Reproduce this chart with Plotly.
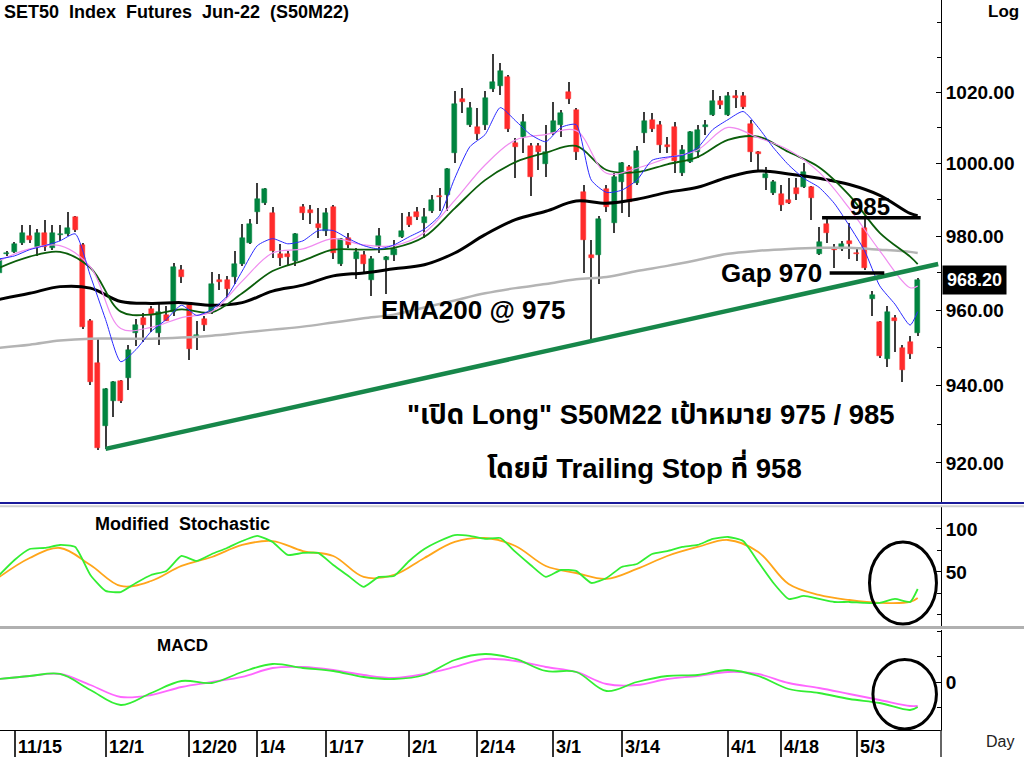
import numpy as np
import plotly.graph_objects as go
from plotly.subplots import make_subplots

# Bar index: 0 = 11/11/2021 ... 121 = last session (May 2022)
tick_idx = [2, 14, 25, 34, 43, 54, 63, 73, 82, 96, 103, 113]
tick_text = ['11/15', '12/1', '12/20', '1/4', '1/17', '2/1', '2/14', '3/1', '3/14', '4/1', '4/18', '5/3']

opens = [970.0, 975.0, 975.7, 978.2, 980.1, 977.1, 980.9, 976.8, 980.3, 980.6,
         985.1, 977.6, 957.2, 946.0, 929.4, 935.9, 941.2, 942.0, 953.8, 958.0,
         960.2, 954.0, 958.6, 959.6, 970.8, 961.3, 953.0, 957.5, 959.6, 968.1,
         968.1, 968.9, 972.4, 978.2, 986.5, 989.0, 986.2, 975.2, 975.2, 973.3,
         987.9, 987.1, 983.4, 981.5, 988.1, 972.4, 979.5, 973.8, 974.9, 968.1,
         977.4, 973.5, 974.9, 979.8, 985.1, 986.5, 983.7, 986.8, 990.9, 991.2,
         1003.0, 1018.0, 1010.9, 1010.1, 1010.9, 1021.1, 1021.7, 1024.5, 1005.8, 1007.5,
         1004.9, 1004.9, 999.8, 1008.6, 1010.9, 1020.0, 1014.9, 992.0, 974.9, 974.9,
         992.9, 983.7, 994.8, 999.0, 994.5, 1008.6, 1012.3, 1010.9, 1005.2, 1010.3,
         997.3, 1000.4, 1003.2, 1010.1, 1013.7, 1017.7, 1013.7, 1018.9, 1018.9, 1011.2,
         1003.2, 995.9, 991.8, 991.5, 989.8, 993.2, 993.4, 993.4, 975.2, 983.4,
         976.5, 976.5, 978.7, 975.4, 982.2, 962.9, 956.7, 947.1, 958.0, 950.0,
         951.6, 954.0]
highs = [975.0, 976.0, 978.4, 983.1, 983.1, 982.0, 984.5, 983.1, 983.1, 986.5,
         985.6, 978.0, 957.7, 952.4, 939.5, 941.2, 941.5, 950.8, 957.5, 959.1,
         961.0, 961.8, 961.0, 972.7, 972.2, 961.6, 957.0, 958.3, 970.3, 969.7,
         969.2, 976.0, 983.4, 984.8, 994.5, 993.2, 987.9, 977.9, 976.0, 980.9,
         988.7, 988.4, 987.6, 987.6, 988.4, 979.5, 980.9, 976.8, 976.0, 974.6,
         982.2, 974.6, 979.0, 986.2, 986.5, 987.9, 987.6, 991.2, 993.2, 998.7,
         1020.3, 1021.4, 1017.4, 1015.5, 1020.3, 1031.1, 1028.5, 1025.1, 1007.2, 1014.0,
         1005.8, 1005.8, 1010.9, 1017.4, 1014.9, 1023.1, 1015.7, 994.0, 979.0, 985.5,
         994.0, 997.3, 1000.4, 999.6, 1004.9, 1014.6, 1014.3, 1011.8, 1007.5, 1011.5,
         1005.2, 1009.2, 1010.9, 1012.3, 1020.6, 1018.9, 1020.0, 1020.6, 1020.0, 1012.3,
         1003.5, 999.0, 995.3, 994.0, 995.9, 995.9, 1000.1, 993.7, 982.5, 985.1,
         977.9, 978.7, 983.7, 977.1, 984.8, 965.1, 957.2, 961.0, 958.8, 950.8,
         953.0, 968.5]
lows = [969.0, 974.6, 975.4, 977.6, 978.2, 974.6, 976.0, 976.2, 978.7, 980.1,
        981.2, 955.0, 940.1, 923.4, 923.6, 931.8, 935.5, 938.8, 950.5, 951.6,
        954.3, 950.8, 957.0, 958.3, 967.3, 946.8, 949.5, 954.5, 959.0, 965.4,
        963.2, 967.0, 971.9, 977.9, 983.4, 988.5, 974.1, 971.9, 971.9, 971.9,
        984.3, 983.4, 979.5, 980.1, 973.8, 971.9, 976.8, 968.3, 969.7, 963.7,
        975.4, 964.3, 973.3, 979.5, 982.5, 984.3, 979.5, 986.2, 987.0, 987.0,
        1000.1, 1014.3, 1010.3, 1006.6, 1009.5, 1020.0, 1019.4, 1008.9, 995.9, 1003.0,
        990.9, 998.2, 996.2, 1008.1, 1007.5, 1016.6, 1001.0, 970.0, 951.6, 967.0,
        986.5, 980.9, 986.2, 985.1, 994.0, 1005.8, 1008.9, 1003.0, 1003.0, 997.3,
        996.5, 1000.1, 1001.5, 1008.1, 1013.4, 1015.2, 1013.2, 1015.7, 1015.2, 1000.4,
        998.2, 992.6, 991.2, 987.0, 988.7, 989.8, 993.2, 984.3, 974.9, 978.2,
        971.4, 976.0, 973.8, 973.3, 970.8, 958.3, 947.4, 944.9, 949.0, 940.9,
        947.1, 953.0]
closes = [973.8, 975.4, 977.9, 980.9, 979.0, 980.9, 977.1, 980.9, 980.6, 982.2,
          981.7, 955.4, 940.9, 923.9, 939.1, 940.9, 935.9, 949.5, 955.9, 955.9,
          958.8, 959.6, 957.2, 971.6, 968.9, 949.7, 953.5, 955.9, 967.0, 967.6,
          965.6, 972.4, 979.5, 983.4, 990.1, 992.9, 976.0, 974.1, 974.4, 980.6,
          986.2, 986.2, 982.2, 986.2, 975.4, 979.3, 977.6, 975.7, 972.4, 973.8,
          980.1, 974.4, 976.5, 981.5, 983.1, 985.1, 985.1, 989.8, 990.7, 998.4,
          1016.6, 1017.4, 1015.5, 1008.4, 1018.3, 1023.1, 1026.0, 1009.8, 1004.7, 1011.5,
          996.2, 1003.2, 1003.2, 1011.8, 1014.3, 1018.0, 1003.2, 979.0, 974.1, 984.8,
          987.9, 996.2, 1000.1, 989.3, 1003.5, 1011.8, 1009.8, 1005.2, 1004.7, 1000.6,
          1003.8, 1008.9, 1009.5, 1010.9, 1017.7, 1016.3, 1018.9, 1018.3, 1016.0, 1003.2,
          1002.8, 997.1, 994.8, 988.4, 989.0, 991.5, 997.6, 990.4, 978.4, 980.9,
          976.2, 977.9, 977.9, 975.2, 971.4, 964.0, 947.9, 959.6, 957.2, 944.1,
          948.4, 968.2]

# moving averages (every 4th bar, blue every 2nd)
ma_idx = list(range(0, 121, 4)) + [121]
ema_black = [962.9, 964.5, 966.3, 965.9, 962.3, 961.8, 962.0, 961.3, 962.0, 965.1,
             966.7, 969.2, 970.0, 971.1, 972.2, 975.4, 980.4, 984.5, 986.8, 989.6,
             989.0, 990.1, 992.0, 993.4, 996.2, 997.9, 997.1, 995.9, 994.2, 991.2,
             986.2, 985.6]
ema_200 = [950.0, 950.8, 951.9, 952.4, 952.4, 952.4, 952.7, 953.2, 954.0, 954.8,
           955.6, 956.7, 957.8, 958.8, 960.7, 962.6, 964.5, 965.9, 967.0, 968.3,
           968.9, 970.5, 971.9, 973.5, 975.2, 976.0, 976.5, 976.8, 976.8, 976.3,
           975.7, 975.4]
ema_dkgreen = [971.4, 974.4, 975.7, 971.4, 959.6, 958.8, 960.2, 959.4, 964.5, 970.5,
               973.3, 976.3, 976.3, 976.8, 979.8, 987.6, 995.4, 1000.4, 1003.0, 1004.9,
               998.2, 997.6, 999.8, 1001.8, 1006.6, 1007.5, 1003.2, 999.0, 991.2, 980.9,
               974.4, 972.4]
ema_pink = [973.3, 976.5, 977.4, 971.6, 955.1, 955.4, 958.0, 959.6, 967.8, 975.4,
            976.5, 979.3, 977.6, 977.4, 980.9, 989.8, 999.6, 1006.6, 1008.1, 1009.2,
            997.3, 998.7, 1001.5, 1003.8, 1010.1, 1007.2, 1003.8, 997.6, 987.6, 976.0,
            966.0, 966.5]
blue_idx = list(range(0, 121, 2)) + [121]
ema_blue = [973.8, 974.6, 976.3, 977.4, 978.7, 980.6, 969.2, 957.5, 946.3, 949.5,
            954.3, 957.5, 961.3, 958.6, 960.2, 963.7, 970.5, 977.4, 979.3, 977.9,
            978.7, 981.5, 981.5, 979.3, 977.4, 976.5, 977.6, 979.8, 981.9, 985.6,
            995.9, 1004.7, 1008.1, 1015.7, 1012.0, 1008.1, 1006.1, 1010.1, 1010.9, 995.4,
            992.0, 992.6, 995.4, 1000.9, 1001.8, 1002.3, 1004.4, 1009.5, 1012.3, 1014.6,
            1010.1, 1004.4, 999.6, 995.9, 993.4, 989.0, 982.8, 976.0, 966.5, 961.6,
            956.0, 959.6]

# Modified stochastic
stoch_k = [46.5, 64, 76.7, 78, 81.4, 79, 46.5, 28, 26.7, 37.2,
           46.5, 51.2, 68.6, 62.8, 70.9, 77.9, 86, 91.9, 84.9, 69.8,
           72.1, 72.1, 58.1, 45.3, 32.6, 44.2, 45.3, 62.8, 76.7, 86,
           93, 91.9, 88.4, 89.5, 73.3, 58.1, 44.2, 52.3, 51.2, 37.2,
           43, 55.8, 59.3, 70.9, 74.4, 79.1, 81.4, 88.4, 90.7, 86,
           61.6, 37.2, 18.6, 22.1, 18.6, 15.1, 15.1, 14, 14, 18.6,
           15.1, 30.2]
stoch_d = [44.2, 66.3, 77.9, 58.1, 33.7, 39.5, 57, 67.4, 81.4, 86,
           74.4, 68.6, 44.2, 46.5, 66.3, 84.9, 89.5, 80.2, 57, 48.8,
           41.9, 53.5, 68.6, 79.1, 87.2, 73.3, 36, 23.3, 17.4, 14,
           15.1, 19.8]

# MACD
macd = [1.5, 3, 4, -4, -11.5, -5.5, 0.5, -0.5, 5, 9,
        7, 5.5, 2.5, 1.5, 3.5, 11, 14, 11.5, 5.5, 5,
        -4.5, 0, 3, 3.5, 6, 3, -3.5, -5.5, -8.5, -10.5,
        -14, -12.5]
macd_signal = [1.5, 3, 4, -1.5, -7.5, -6.5, -2.5, 0, 2.5, 7,
               7.5, 6, 3.5, 2, 4, 7.5, 11.5, 10.5, 7.5, 5,
               -1, -1.5, 1.5, 3, 5, 4, -0.5, -3, -6, -9,
               -12, -12]

# analyst drawings
trend_x = [14, 123.7]
trend_y = [923.6, 972.4]
target_x = [108.4, 121.4]
target_y = [985, 985]
gap_x = [109.4, 116.6]
gap_y = [970, 970]

FONT = 'Liberation Sans, Arial, sans-serif'
THAI = 'Liberation Sans, Noto Sans Thai, Loma, Garuda, Tlwg Typo, sans-serif'

fig = make_subplots(rows=3, cols=1, shared_xaxes=True, vertical_spacing=0.0)

idx = list(range(len(closes)))
up = ['#00843f' if c >= o else '#ff2b2b' for o, c in zip(opens, closes)]
body_base = [min(o, c) for o, c in zip(opens, closes)]
body_len = [max(abs(c - o), 0.3) for o, c in zip(opens, closes)]
wick_len = [h - l for h, l in zip(highs, lows)]

# wicks then bodies
fig.add_trace(go.Bar(x=idx, y=wick_len, base=lows, width=0.14,
                     marker=dict(color='#3c3c3c', line=dict(width=0))), row=1, col=1)
fig.add_trace(go.Bar(x=idx, y=body_len, base=body_base, width=0.66,
                     marker=dict(color=up, line=dict(color=up, width=0.5))), row=1, col=1)

# moving averages
fig.add_trace(go.Scatter(x=ma_idx, y=ema_200, mode='lines', line=dict(color='#b4b4b4', width=2.5, shape='spline')), row=1, col=1)
fig.add_trace(go.Scatter(x=ma_idx, y=ema_black, mode='lines', line=dict(color='#000000', width=3, shape='spline')), row=1, col=1)
fig.add_trace(go.Scatter(x=ma_idx, y=ema_dkgreen, mode='lines', line=dict(color='#0b5e0b', width=1.8, shape='spline')), row=1, col=1)
fig.add_trace(go.Scatter(x=ma_idx, y=ema_pink, mode='lines', line=dict(color='#f08cf0', width=1.2, shape='spline')), row=1, col=1)
fig.add_trace(go.Scatter(x=blue_idx, y=ema_blue, mode='lines', line=dict(color='#2a2aff', width=1, shape='spline', smoothing=0.6)), row=1, col=1)

# trend line and levels
fig.add_trace(go.Scatter(x=trend_x, y=trend_y, mode='lines', line=dict(color='#17874a', width=4.5)), row=1, col=1)
fig.add_trace(go.Scatter(x=target_x, y=target_y, mode='lines', line=dict(color='black', width=3.5)), row=1, col=1)
fig.add_trace(go.Scatter(x=gap_x, y=gap_y, mode='lines', line=dict(color='black', width=3.5)), row=1, col=1)

# stochastic
fig.add_trace(go.Scatter(x=ma_idx, y=stoch_d, mode='lines', line=dict(color='#ffa51a', width=1.8, shape='spline')), row=2, col=1)
fig.add_trace(go.Scatter(x=blue_idx, y=stoch_k, mode='lines', line=dict(color='#33ee33', width=1.8, shape='spline', smoothing=0.5)), row=2, col=1)

# MACD
fig.add_trace(go.Scatter(x=ma_idx, y=macd_signal, mode='lines', line=dict(color='#ff66ff', width=1.8, shape='spline')), row=3, col=1)
fig.add_trace(go.Scatter(x=ma_idx, y=macd, mode='lines', line=dict(color='#33ee33', width=1.8, shape='spline')), row=3, col=1)

# axes
x_range = [0.09, 124.07]
fig.update_xaxes(range=x_range, showgrid=False, zeroline=False, showticklabels=False, ticks='')
fig.update_xaxes(ticks='outside', ticklen=27, tickwidth=1.5, tickcolor='#333333',
                 tickmode='array', tickvals=tick_idx, showline=True, linecolor='black', linewidth=1,
                 row=3, col=1)

axis_font = dict(family=FONT, size=19, color='black', weight='bold')
main_ticks = [920, 940, 960, 980, 1000, 1020]
fig.update_yaxes(type='log', range=[np.log10(909.8), np.log10(1046.6)], side='right',
                 tickmode='array', tickvals=main_ticks, ticktext=['%.2f' % v for v in main_ticks],
                 ticks='inside', ticklen=5, tickcolor='black', showline=True, linecolor='black',
                 showgrid=False, zeroline=False, tickfont=axis_font,
                 minor=dict(ticks='inside', ticklen=4, tickcolor='black', tickmode='array',
                            tickvals=[910, 930, 950, 970, 990, 1010, 1030, 1040]),
                 row=1, col=1)
fig.update_yaxes(range=[-14, 125.6], side='right', tickmode='array', tickvals=[50, 100],
                 ticks='inside', ticklen=5, tickcolor='black', showline=True, linecolor='black',
                 showgrid=False, zeroline=False, tickfont=axis_font,
                 minor=dict(ticks='inside', ticklen=4, tickcolor='black', tickmode='array',
                            tickvals=[0, 25, 75, 125]),
                 row=2, col=1)
fig.update_yaxes(range=[-24, 26], side='right', tickmode='array', tickvals=[0],
                 ticks='inside', ticklen=5, tickcolor='black', showline=True, linecolor='black',
                 showgrid=False, zeroline=False, tickfont=axis_font,
                 minor=dict(ticks='inside', ticklen=4, tickcolor='black', tickmode='array',
                            tickvals=[-12.5, 12.5, 25]),
                 row=3, col=1)

fig.update_layout(
    width=1024, height=757,
    margin=dict(l=0, r=83, t=0, b=27),
    paper_bgcolor='white', plot_bgcolor='white',
    showlegend=False, barmode='overlay', bargap=0,
    font=dict(family=FONT, color='black'),
    yaxis=dict(domain=[0.311, 1.0]),
    yaxis2=dict(domain=[0.1411, 0.3055]),
    yaxis3=dict(domain=[0.0, 0.137]),
)

# panel separators
fig.add_shape(type='line', xref='paper', yref='paper', x0=0, x1=1.09, y0=0.311, y1=0.311,
              line=dict(color='#1a1a9a', width=2))
fig.add_shape(type='line', xref='paper', yref='paper', x0=0, x1=1.09, y0=0.3065, y1=0.3065,
              line=dict(color='#cfcfcf', width=2))
fig.add_shape(type='line', xref='paper', yref='paper', x0=0, x1=1.09, y0=0.1405, y1=0.1405,
              line=dict(color='#b0b0b0', width=3))
fig.add_shape(type='line', xref='paper', yref='paper', x0=1.0, x1=1.0, y0=0, y1=-0.037,
              line=dict(color='#333333', width=1.5))

# circles around the latest readings
fig.add_shape(type='circle', xref='x2', yref='y2', x0=114.65, x1=123.47, y0=-10.5, y1=84.9,
              line=dict(color='black', width=3))
fig.add_shape(type='circle', xref='x3', yref='y3', x0=115.1, x1=123.47, y0=-23.5, y1=11.25,
              line=dict(color='black', width=3))

# x tick labels to the right of their separators
for t, s in zip(tick_idx, tick_text):
    fig.add_annotation(x=t, xref='x3', y=-0.0233, yref='paper', text=s, showarrow=False,
                       xanchor='left', yanchor='middle', xshift=1,
                       font=dict(family=FONT, size=18, color='black', weight='bold'))

fig.add_annotation(x=0, xref='paper', y=1, yref='paper', xanchor='left', yanchor='top', xshift=2,
                   text='SET50\u00a0\u00a0Index\u00a0\u00a0Futures\u00a0\u00a0Jun-22\u00a0\u00a0(S50M22)',
                   showarrow=False, font=dict(family=FONT, size=18, color='black', weight='bold'))
fig.add_annotation(x=1.088, xref='paper', y=1, yref='paper', xanchor='right', yanchor='top', xshift=-3,
                   text='Log', showarrow=False, font=dict(family=FONT, size=17, color='black', weight='bold'))
fig.add_annotation(x=1.0, xref='paper', y=np.log10(closes[-1]), yref='y', xanchor='left', yanchor='middle',
                   xshift=1, text='%.2f' % closes[-1], showarrow=False, bgcolor='black', borderpad=4,
                   font=dict(family=FONT, size=18, color='white', weight='bold'))
fig.add_annotation(x=114.7, xref='x', y=np.log10(target_y[0]), yref='y', yanchor='bottom', yshift=-4,
                   text='985', showarrow=False, font=dict(family=FONT, size=24, color='black', weight='bold'))
fig.add_annotation(x=gap_x[0], xref='x', y=np.log10(gap_y[0]), yref='y', xanchor='right', yanchor='middle',
                   xshift=-6, text='Gap 970', showarrow=False,
                   font=dict(family=FONT, size=26, color='black', weight='bold'))
fig.add_annotation(x=62.4, xref='x', y=np.log10(960), yref='y', text='EMA200 @ 975', showarrow=False,
                   font=dict(family=FONT, size=26, color='black', weight='bold'))
fig.add_annotation(x=85.8, xref='x', y=np.log10(932.5), yref='y', showarrow=False,
                   text='"เปิด Long" S50M22 เป้าหมาย 975 / 985',
                   font=dict(family=THAI, size=27.5, color='black', weight='bold'))
fig.add_annotation(x=85.0, xref='x', y=np.log10(919.2), yref='y', showarrow=False,
                   text='โดยมี Trailing Stop ที่ 958',
                   font=dict(family=THAI, size=27.5, color='black', weight='bold'))
fig.add_annotation(x=0.0988, xref='paper', y=0.282, yref='paper', xanchor='left', yanchor='middle',
                   text='Modified\u00a0\u00a0Stochastic', showarrow=False,
                   font=dict(family=FONT, size=18, color='black', weight='bold'))
fig.add_annotation(x=0.1647, xref='paper', y=0.1164, yref='paper', xanchor='left', yanchor='middle',
                   text='MACD', showarrow=False, font=dict(family=FONT, size=17, color='black', weight='bold'))
fig.add_annotation(x=1.046, xref='paper', y=-0.0164, yref='paper', xanchor='left', yanchor='middle',
                   text='Day', showarrow=False, font=dict(family=FONT, size=16, color='#222222'))

# page has a default body margin; drop it so the chart sits at the window origin
fig.write_html("out.html", config={'displayModeBar': False},
               post_script="document.body.style.margin='0';")
